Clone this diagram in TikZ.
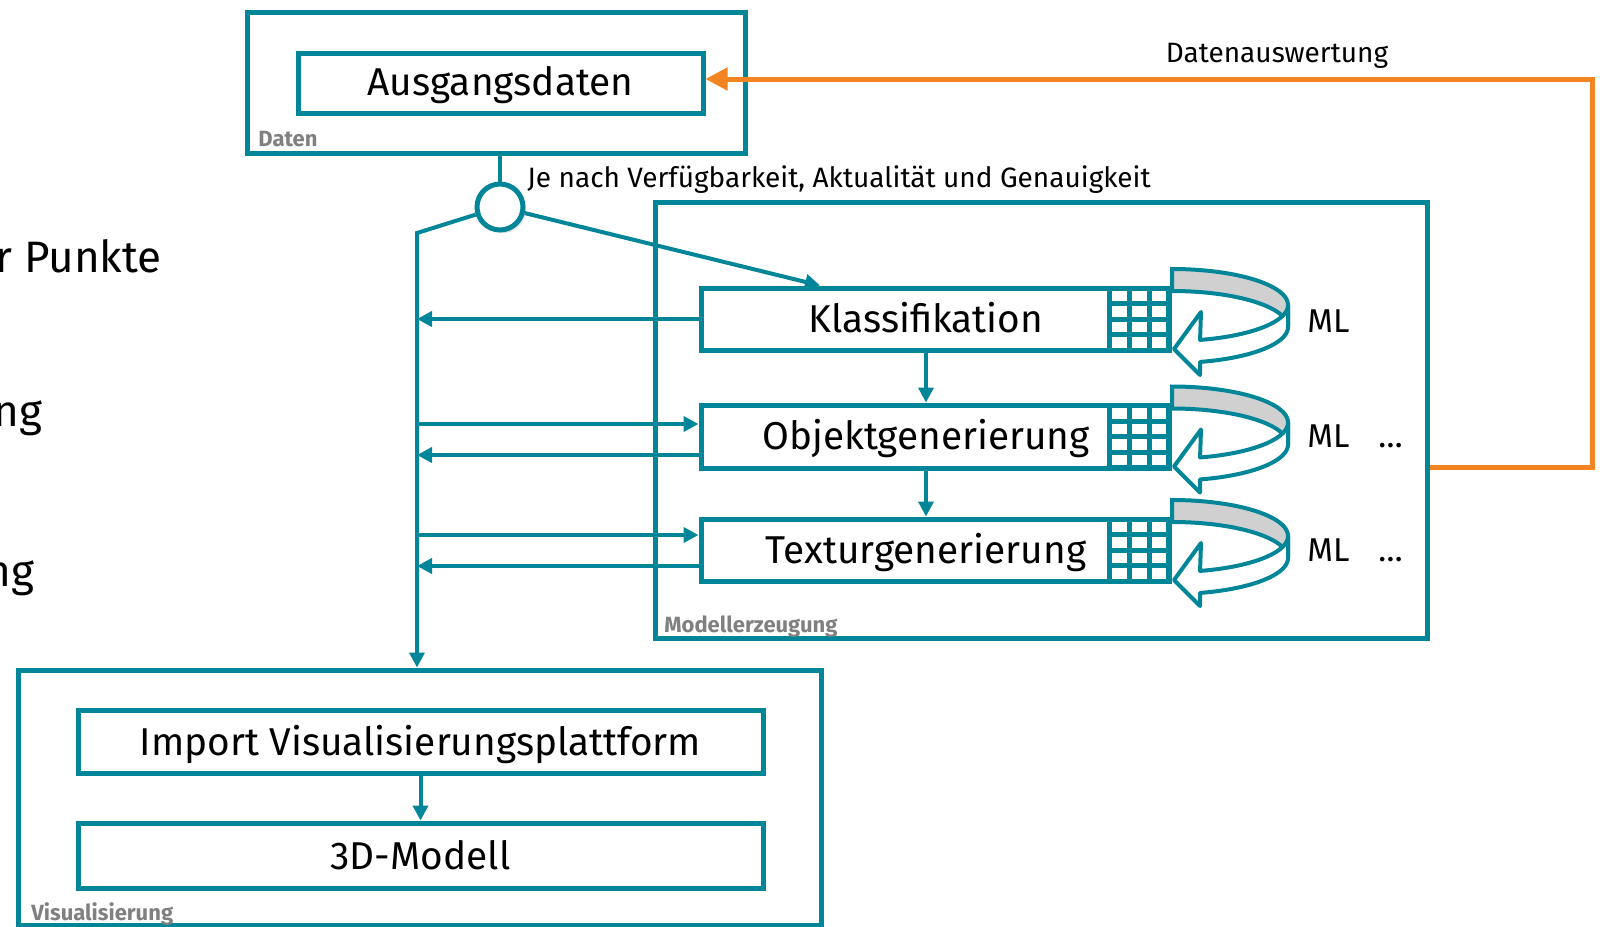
\documentclass[tikz,border=0pt]{standalone}
\usepackage{fontspec}
\setmainfont{Fira Sans}
\usetikzlibrary{arrows.meta,shadows,calc}
\definecolor{fteal}{RGB}{0,134,152}
\definecolor{forange}{RGB}{242,133,34}
\definecolor{bandgray}{RGB}{208,208,208}
\definecolor{lblgray}{RGB}{128,128,128}
\newcommand\mlloop[1]{%
  \filldraw[draw=fteal, line width=2pt, fill=bandgray]
    plot[domain=270:360, samples=40] ({1172+116*cos(\x)},{#1-14+36*sin(\x)})
    -- plot[domain=360:270, samples=40] ({1172+116*cos(\x)},{#1+8+36*sin(\x)}) -- cycle;
  \filldraw[draw=fteal, line width=2pt, fill=white, line join=round]
    plot[domain=0:76, samples=40] ({1172+116*cos(\x)},{#1-14+36*sin(\x)})
    -- (1201,#1-7) -- (1174,#1+30) -- (1200,#1+56)
    -- plot[domain=76:0, samples=40] ({1172+116*cos(\x)},{#1+8+36*sin(\x)}) -- cycle;
}
\newcommand\mlgrid[1]{%
  \fill[fteal] (1107,#1-33.5) rectangle (1171.5,#1+33.5);
  \foreach \i in {0,1,2}{\foreach \j in {0,1,2,3}{%
    \fill[white] ({1112+\i*19.8},{#1-28.5+\j*15.5}) rectangle ++(14.8,10.5);}}
}
\begin{document}
\begin{tikzpicture}[x=0.5pt,y=-0.5pt,
  frame/.style={draw=fteal, line width=2.5pt, fill=white, inner sep=0pt,
    drop shadow={shadow xshift=1.5pt,shadow yshift=-1.5pt,opacity=0.22}},
  boxtxt/.style={font=\fontsize{19.4}{23}\selectfont, anchor=base, inner sep=0pt},
  grp/.style={font=\fontsize{11}{13}\selectfont\bfseries, text=lblgray, anchor=base west, inner sep=0pt},
  small/.style={font=\fontsize{14}{17}\selectfont, inner sep=0pt},
  arr/.style={draw=fteal, line width=2pt, -{Triangle[length=7.5pt,width=7.5pt]}},
  ln/.style={draw=fteal, line width=2pt},
  oarr/.style={draw=forange, line width=2.5pt, -{Triangle[length=11pt,width=11pt]}},
  mltxt/.style={font=\fontsize{16.5}{20}\selectfont, anchor=base west, inner sep=0pt},
  bigtxt/.style={font=\fontsize{22}{26}\selectfont, anchor=base east, inner sep=0pt}]
\useasboundingbox (0,0) rectangle (1603,927);
\fill[white] (0,0) rectangle (1603,927);

% partial text at left (cut off by the page edge, as in the reference)
\node[bigtxt] (lt1) at (162,272) {r Punkte};
\node[bigtxt] (lt2) at (43,426) {ng};
\node[bigtxt] (lt3) at (35,586) {ng};

% group frames
\node[frame, minimum width=249pt, minimum height=70.5pt] (daten) at (496,82.5) {};
\node[frame, minimum width=386pt, minimum height=218pt] (mod) at (1041,420) {};
\node[frame, minimum width=401.5pt, minimum height=127.5pt] (vis) at (419.5,797.5) {};
\node[grp] (datenL) at (258,146) {Daten};
\node[grp] (modL) at (664,632) {Modellerzeugung};
\node[grp] (visL) at (31,920) {Visualisierung};

% process boxes
\node[frame, minimum width=202.5pt, minimum height=30pt] (ausg) at (500.5,83) {};
\node[boxtxt] (ausgT) at (500.5,95.5) {Ausgangsdaten};
\node[frame, minimum width=234pt, minimum height=31pt] (klass) at (935,319) {};
\node[frame, minimum width=234pt, minimum height=31.5pt] (objekt) at (935,436.5) {};
\node[frame, minimum width=234pt, minimum height=31pt] (textur) at (935,550) {};
\node[boxtxt] (klassT) at (926,332) {Klassifikation};
\node[boxtxt] (objektT) at (926,449.5) {Objektgenerierung};
\node[boxtxt] (texturT) at (926,563) {Texturgenerierung};
\node[frame, minimum width=342.5pt, minimum height=31.5pt] (imp) at (420.5,741.5) {};
\node[frame, minimum width=342.5pt, minimum height=32.5pt] (m3d) at (420.5,855.5) {};
\node[boxtxt] (impT) at (420.5,755) {Import Visualisierungsplattform};
\node[boxtxt] (m3dT) at (420.5,869) {3D-Modell};

% grids and ML loops
\mlgrid{319}
\mlgrid{436.5}
\mlgrid{550}
\mlloop{319}
\mlloop{436.5}
\mlloop{550}
\node[mltxt] (ml1) at (1307,332) {ML};
\node[mltxt] (ml2) at (1307,447) {ML};
\node[mltxt] (ml3) at (1307,561) {ML};
\node[mltxt] (d2) at (1378,447) {…};
\node[mltxt] (d3) at (1378,561) {…};

% switch circle
\node[frame, circle, minimum size=23pt] (sw) at (500,207) {};
\draw[ln] (sw |- daten.south) -- (sw);
\coordinate (bend) at (417,233);
\draw[arr] (sw) -- (bend) -- (bend |- vis.north);
\draw[arr] (sw) -- ([xshift=-57.5pt]klass.north);
\node[small, anchor=base west] (jeT) at (527,187) {Je nach Verfügbarkeit, Aktualität und Genauigkeit};

% bus connections
\draw[arr] (klass.west) -- (klass.west -| bend);
\coordinate (oin) at ([yshift=6.25pt]objekt.west);
\coordinate (oout) at ([yshift=-9.25pt]objekt.west);
\coordinate (tin) at ([yshift=7.5pt]textur.west);
\coordinate (tout) at ([yshift=-8pt]textur.west);
\draw[arr] (bend |- oin) -- (oin);
\draw[arr] (oout) -- (oout -| bend);
\draw[arr] (bend |- tin) -- (tin);
\draw[arr] (tout) -- (tout -| bend);

% vertical flow
\draw[arr] ([xshift=-4.5pt]klass.south) -- ([xshift=-4.5pt]objekt.north);
\draw[arr] ([xshift=-4.5pt]objekt.south) -- ([xshift=-4.5pt]textur.north);
\draw[arr] (imp.south) -- (m3d.north);

% feedback
\coordinate (oy) at (0,467);
\coordinate (ocorner) at (1592,79);
\draw[oarr] (mod.east |- oy) -| (ocorner) -- (ocorner -| ausg.east);
\node[small, anchor=base] (fbT) at (1277,62) {Datenauswertung};
\end{tikzpicture}
\end{document}
